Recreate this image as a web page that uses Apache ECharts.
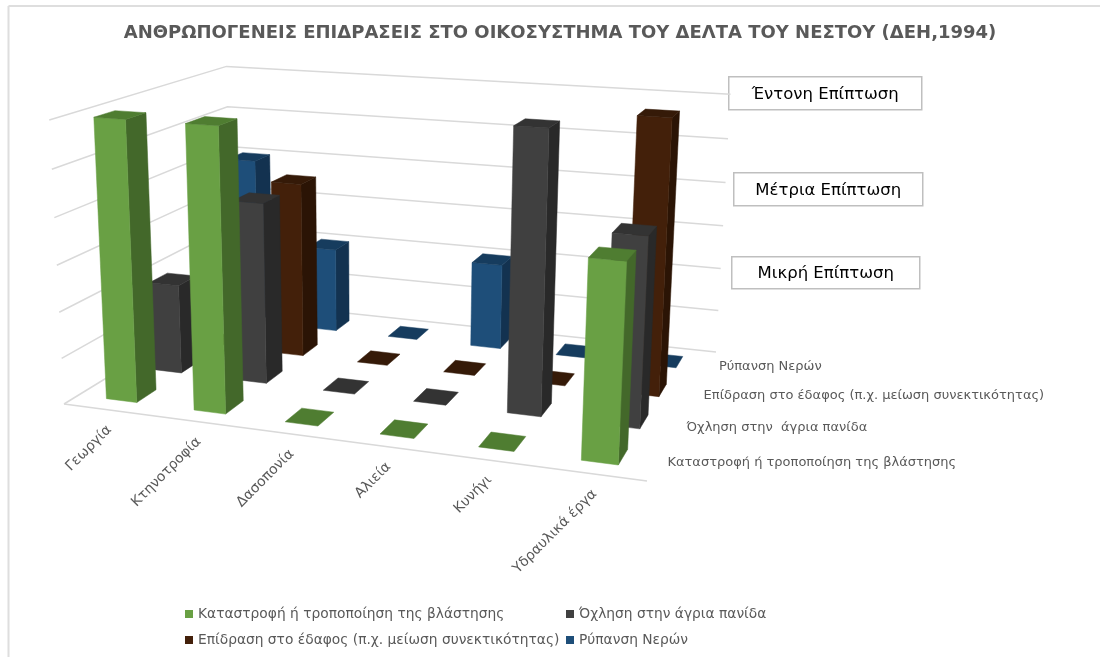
<!DOCTYPE html>
<html>
<head>
<meta charset="utf-8">
<style>
  html, body { margin: 0; padding: 0; background: #fff; }
  #chart { width: 1100px; height: 657px; }
</style>
<script src="https://cdn.jsdelivr.net/npm/echarts@6/dist/echarts.min.js"></script>
</head>
<body>
<div id="chart"></div>
<script>
const categories = ['Γεωργία', 'Κτηνοτροφία', 'Δασοπονία', 'Αλιεία', 'Κυνήγι', 'Υδραυλικά έργα'];
const seriesNames = [
  'Καταστροφή ή τροποποίηση της βλάστησης',
  'Όχληση στην άγρια πανίδα',
  'Επίδραση στο έδαφος (π.χ. μείωση συνεκτικότητας)',
  'Ρύπανση Νερών'
];
const depthLabels = [
  'Καταστροφή ή τροποποίηση της βλάστησης',
  'Όχληση στην  άγρια πανίδα',
  'Επίδραση στο έδαφος (π.χ. μείωση συνεκτικότητας)',
  'Ρύπανση Νερών'
];
const vegetation = [3, 3, 0, 0, 0, 2];
const wildlife = [1, 2, 0, 0, 3, 2];
const soil = [0, 2, 0, 0, 0, 3];
const water = [2, 1, 0, 1, 0, 0];
const valueTicks = [0, 0.5, 1, 1.5, 2, 2.5, 3];
const levelLabels = ['Μικρή Επίπτωση', 'Μέτρια Επίπτωση', 'Έντονη Επίπτωση'];

const VALUE_MAX = 3;
const BAR_W = 0.35;
const BAR_D = 0.42;

// front / side / top shades per row, front row first
const palette = [
  { front: '#69A044', side: '#43682A', top: '#4F7D31' },
  { front: '#404040', side: '#292929', top: '#333333' },
  { front: '#43200A', side: '#2B1405', top: '#351A08' },
  { front: '#1E4E79', side: '#133250', top: '#163C5E' }
];

// floor corners on screen, then the point the verticals run to
const F0 = [64, 404], F1 = [647, 481], B1 = [716, 352], B0 = [232, 301];
const VP = [375, 6400];
const TOP_FL_Y = 120;

// unit square -> floor quad
const floorH = (() => {
  const dx1 = F1[0] - B1[0], dx2 = B0[0] - B1[0], sx = F0[0] - F1[0] + B1[0] - B0[0];
  const dy1 = F1[1] - B1[1], dy2 = B0[1] - B1[1], sy = F0[1] - F1[1] + B1[1] - B0[1];
  const den = dx1 * dy2 - dx2 * dy1;
  const g = (sx * dy2 - dx2 * sy) / den;
  const h = (dx1 * sy - sx * dy1) / den;
  return {
    a: F1[0] - F0[0] + g * F1[0], b: B0[0] - F0[0] + h * B0[0], c: F0[0],
    d: F1[1] - F0[1] + g * F1[1], e: B0[1] - F0[1] + h * B0[1], f: F0[1],
    g, h
  };
})();
const K = (TOP_FL_Y - F0[1]) / (VP[1] - TOP_FL_Y);

// u along the categories, v from front to back, value up the wall
const project = (u, v, value) => {
  const t = value / VALUE_MAX;
  const m = floorH;
  const w = m.g * u + m.h * v + 1 + K * t;
  return [
    (m.a * u + m.b * v + m.c + K * t * VP[0]) / w,
    (m.d * u + m.e * v + m.f + K * t * VP[1]) / w
  ];
};

const renderBar = (row) => (params, api) => {
  const cat = api.value(0);
  const val = api.value(1);
  const shade = palette[row];
  const u0 = (cat + 0.5 - BAR_W / 2) / categories.length;
  const u1 = (cat + 0.5 + BAR_W / 2) / categories.length;
  const v0 = (row + 0.5 - BAR_D / 2) / seriesNames.length;
  const v1 = (row + 0.5 + BAR_D / 2) / seriesNames.length;
  const poly = (pts, color) => ({
    type: 'polygon',
    shape: { points: pts },
    style: { fill: color, stroke: color, lineWidth: 0.5 }
  });
  const children = [];
  if (val > 0) {
    children.push(poly([project(u1, v0, 0), project(u1, v1, 0), project(u1, v1, val), project(u1, v0, val)], shade.side));
    children.push(poly([project(u0, v0, 0), project(u1, v0, 0), project(u1, v0, val), project(u0, v0, val)], shade.front));
  }
  children.push(poly([project(u0, v0, val), project(u1, v0, val), project(u1, v1, val), project(u0, v1, val)], shade.top));
  return { type: 'group', children };
};

const renderWalls = (params, api) => {
  const val = api.value(0);
  const pts = [project(0, 0, val), project(0, 1, val), project(1, 1, val)];
  return {
    type: 'polyline',
    shape: { points: pts },
    style: { fill: 'none', stroke: '#D9D9D9', lineWidth: 1.5 }
  };
};

const renderFrontEdge = () => {
  const a = project(0, 0, 0), b = project(1, 0, 0);
  return {
    type: 'line',
    shape: { x1: a[0], y1: a[1], x2: b[0], y2: b[1] },
    style: { stroke: '#D9D9D9', lineWidth: 1.5 }
  };
};

const renderCatLabel = (params, api) => {
  const i = api.value(0);
  const p = project((i + 0.5) / categories.length, 0, 0);
  return {
    type: 'text',
    x: p[0] + 2,
    y: p[1] + 18,
    rotation: Math.PI / 4,
    style: {
      text: categories[i],
      fill: '#595959',
      font: '14px "DejaVu Sans"',
      align: 'right',
      verticalAlign: 'middle'
    }
  };
};

const renderDepthLabel = (params, api) => {
  const i = api.value(0);
  const p = project(1, (i + 0.5) / seriesNames.length, 0);
  return {
    type: 'text',
    x: p[0] + 10,
    y: p[1] + 1.5,
    style: {
      text: depthLabels[i],
      fill: '#595959',
      font: '13px "DejaVu Sans"',
      align: 'left',
      verticalAlign: 'middle'
    }
  };
};

const levelBox = (text, left, top, width, height) => ({
  type: 'group',
  left,
  top,
  children: [
    { type: 'rect', shape: { x: 0, y: 0, width, height }, style: { fill: '#fff', stroke: '#BFBFBF', lineWidth: 1.5 } },
    { type: 'text', x: width / 2, y: height / 2 + 1, style: { text, fill: '#000', font: '16.5px "DejaVu Sans"', align: 'center', verticalAlign: 'middle' } }
  ]
});

// chart frame, only the left and top edges are inside the shot
const frameEdge = (x1, y1, x2, y2) => ({
  type: 'line',
  shape: { x1, y1, x2, y2 },
  style: { stroke: '#DEDEDE', lineWidth: 2 }
});

const legendBase = {
  orient: 'vertical',
  top: 601,
  itemGap: 10,
  itemWidth: 8,
  itemHeight: 8,
  icon: 'rect',
  selectedMode: false,
  textStyle: { color: '#595959', fontFamily: 'DejaVu Sans', fontSize: 13.8, lineHeight: 16 }
};

const rows = [vegetation, wildlife, soil, water];
const barSeries = rows.map((values, row) => ({
  type: 'custom',
  name: seriesNames[row],
  coordinateSystem: 'none',
  renderItem: renderBar(row),
  itemStyle: { color: palette[row].front },
  data: values.map((v, i) => [i, v]),
  z: 10 + (rows.length - row),
  silent: true,
  clip: false
}));

const option = {
  animation: false,
  backgroundColor: '#fff',
  title: {
    text: 'ΑΝΘΡΩΠΟΓΕΝΕΙΣ ΕΠΙΔΡΑΣΕΙΣ ΣΤΟ ΟΙΚΟΣΥΣΤΗΜΑ ΤΟΥ ΔΕΛΤΑ ΤΟΥ ΝΕΣΤΟΥ (ΔΕΗ,1994)',
    left: 555,
    top: 19,
    textAlign: 'center',
    textStyle: { color: '#595959', fontFamily: 'DejaVu Sans', fontWeight: 'bold', fontSize: 18 }
  },
  legend: [
    Object.assign({}, legendBase, { left: 180, data: [seriesNames[0], seriesNames[2]] }),
    Object.assign({}, legendBase, { left: 561, data: [seriesNames[1], seriesNames[3]] })
  ],
  graphic: [
    frameEdge(8.5, 6, 8.5, 657),
    frameEdge(8.5, 6, 1100, 6),
    levelBox(levelLabels[2], 728, 76, 193, 33),
    levelBox(levelLabels[1], 733, 172, 189, 33),
    levelBox(levelLabels[0], 731, 256, 188, 32)
  ],
  series: [
    { type: 'custom', coordinateSystem: 'none', renderItem: renderWalls, data: valueTicks.map((v) => [v]), z: 1, silent: true },
    { type: 'custom', coordinateSystem: 'none', renderItem: renderFrontEdge, data: [[0]], z: 1, silent: true },
    { type: 'custom', coordinateSystem: 'none', renderItem: renderCatLabel, data: categories.map((c, i) => [i]), z: 2, silent: true },
    { type: 'custom', coordinateSystem: 'none', renderItem: renderDepthLabel, data: depthLabels.map((c, i) => [i]), z: 2, silent: true }
  ].concat(barSeries)
};

const chart = echarts.init(document.getElementById('chart'), null, { renderer: 'canvas' });
chart.setOption(option);
</script>
</body>
</html>
